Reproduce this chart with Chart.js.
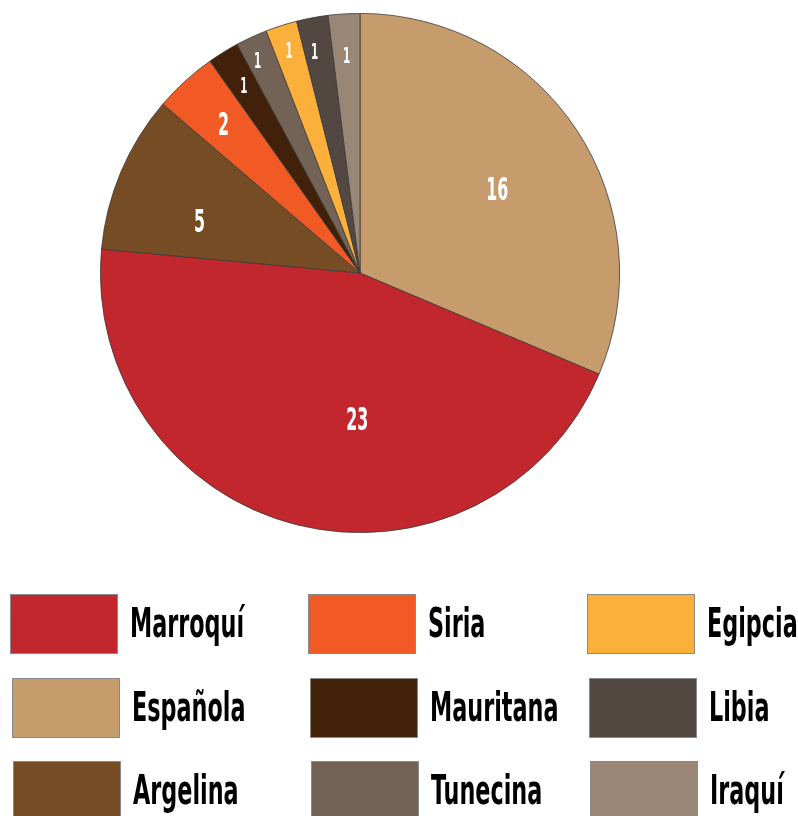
<!DOCTYPE html>
<html>
<head>
<meta charset="utf-8">
<script src="https://cdn.jsdelivr.net/npm/chart.js@4"></script>
<style>
  html, body { margin: 0; padding: 0; background: #fff; }
  body { width: 798px; height: 816px; position: relative; overflow: hidden; font-family: 'DejaVu Sans Condensed', sans-serif; }
  #pieWrap { position: absolute; left: 100px; top: 13px; width: 520px; height: 520px; }
  #legend { position: absolute; left: 0; top: 0; width: 798px; height: 816px; }
  .item { position: absolute; height: 60px; }
  .box { position: absolute; left: 0; top: 0; width: 106px; height: 58px; border: 1px solid #8a8a8a; }
  .lbl { position: absolute; left: 120px; top: 4px; font-size: 40px; font-weight: bold; line-height: 50px; color: #000; white-space: nowrap; transform: scaleX(0.62); transform-origin: left center; }
</style>
</head>
<body>
<div id="pieWrap"><canvas id="chartCanvas"></canvas></div>
<div id="legend"></div>
<script>
// categorías en el orden del pastel (sentido horario desde arriba)
const categories = ['Española', 'Marroquí', 'Argelina', 'Siria', 'Mauritana', 'Tunecina', 'Egipcia', 'Libia', 'Iraquí'];
const values = [16, 23, 5, 2, 1, 1, 1, 1, 1];
const colors = ['#C69C6D', '#C1272D', '#754C24', '#F15A24', '#42210B', '#736357', '#FBB03B', '#534741', '#998675'];
// orden de la leyenda (por columnas)
const legendOrder = ['Marroquí', 'Española', 'Argelina', 'Siria', 'Mauritana', 'Tunecina', 'Egipcia', 'Libia', 'Iraquí'];

// posición de las etiquetas: [fracción del radio, desplazamiento angular en grados]
const labelPos = [[0.62, 2], [0.56, -13], [0.65, -5], [0.78, 0], [0.85, 0], [0.91, -1], [0.9, 0], [0.87, -1], [0.84, 0]];

const sliceLabels = {
    id: 'sliceLabels',
    afterDatasetsDraw(chart) {
        const ctx = chart.ctx;
        const meta = chart.getDatasetMeta(0);
        meta.data.forEach((arc, i) => {
            const v = chart.data.datasets[0].data[i];
            const mid = (arc.startAngle + arc.endAngle) / 2 + labelPos[i][1] * Math.PI / 180;
            const r = arc.outerRadius * labelPos[i][0];
            const x = arc.x + Math.cos(mid) * r;
            const y = arc.y + Math.sin(mid) * r;
            ctx.save();
            ctx.translate(x, y);
            ctx.scale(0.55, 1);
            ctx.fillStyle = '#fff';
            ctx.font = 'bold ' + (v > 1 ? 32 : 21) + 'px "DejaVu Sans Condensed", sans-serif';
            ctx.textAlign = 'center';
            ctx.textBaseline = 'middle';
            ctx.fillText(String(v), 0, v > 1 ? 3 : 2);
            ctx.restore();
        });
    }
};

const ctx = document.getElementById('chartCanvas').getContext('2d');
const chart = new Chart(ctx, {
    type: 'pie',
    data: {
        labels: categories,
        datasets: [{
            data: values,
            backgroundColor: colors,
            borderColor: '#3b3b3b',
            borderWidth: 0.8
        }]
    },
    options: {
        responsive: true,
        maintainAspectRatio: false,
        animation: false,
        layout: { padding: 0 },
        plugins: {
            legend: { display: false },
            tooltip: { enabled: false }
        }
    },
    plugins: [sliceLabels]
});

// leyenda en tres columnas
const colX = [10, 308, 587];
const rowY = [594, 678, 761];
const legendEl = document.getElementById('legend');
legendOrder.forEach((name, k) => {
    const idx = categories.indexOf(name);
    const col = Math.floor(k / 3), row = k % 3;
    const item = document.createElement('div');
    item.className = 'item';
    item.style.left = colX[col] + row * 1.5 + 'px';
    item.style.top = rowY[row] + 'px';
    const box = document.createElement('div');
    box.className = 'box';
    box.style.background = colors[idx];
    const lbl = document.createElement('div');
    lbl.className = 'lbl';
    lbl.textContent = name;
    item.appendChild(box);
    item.appendChild(lbl);
    legendEl.appendChild(item);
});
</script>
</body>
</html>
